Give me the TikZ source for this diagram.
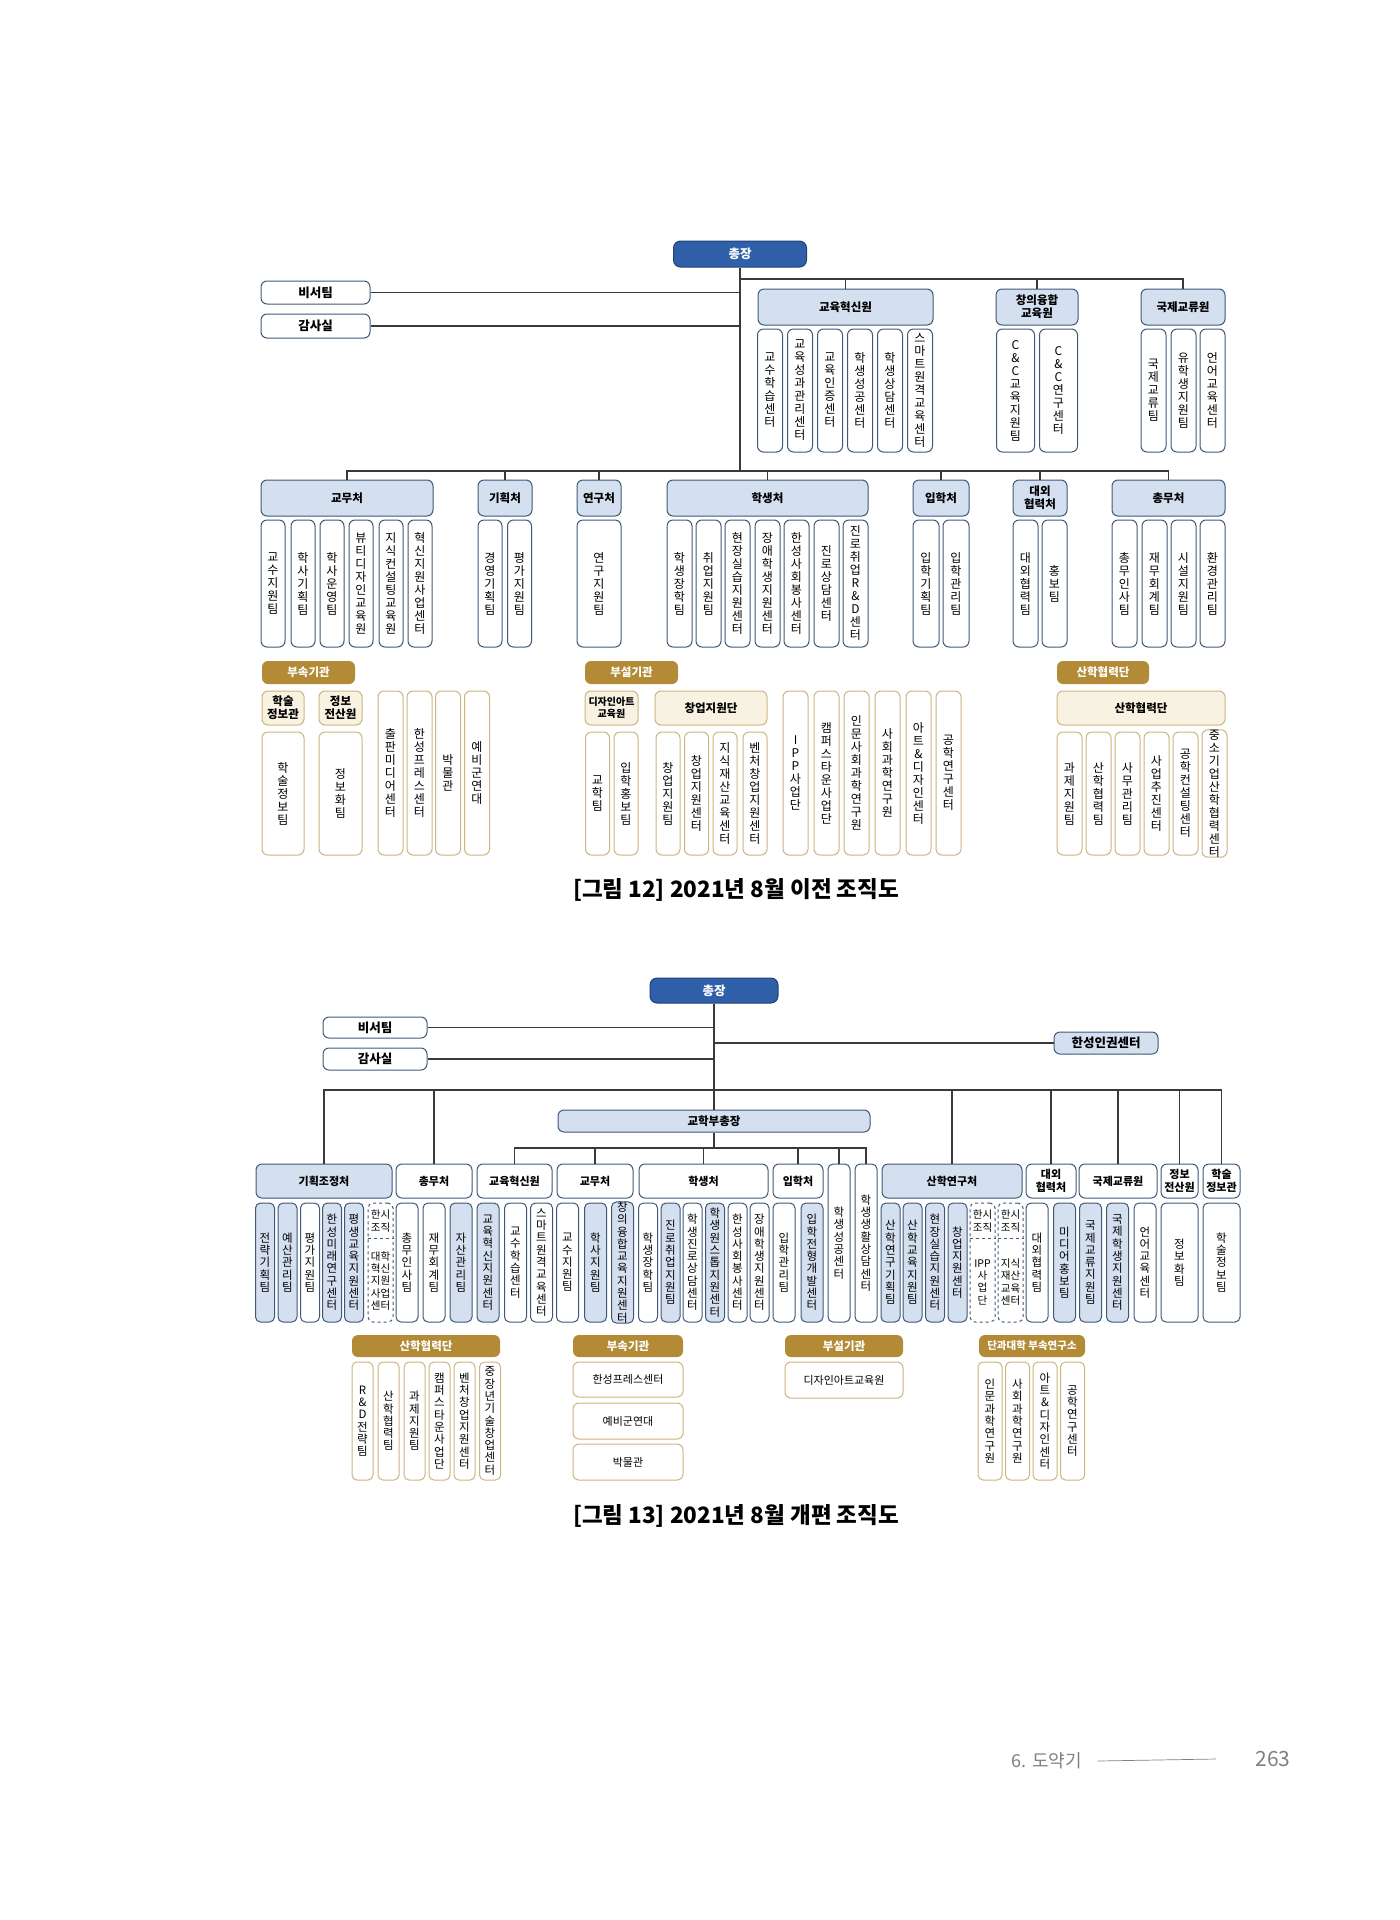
\documentclass[tikz,border=0pt]{standalone}
\usepackage{fontspec}
\setmainfont{Noto Sans CJK KR}
\usepackage{xcolor}
\usepackage{tikz}
\usetikzlibrary{positioning,calc}
\definecolor{chiefblue}{HTML}{2E5FA8}
\definecolor{paleblue}{HTML}{D4DFEF}
\definecolor{edgeblue}{HTML}{3F5878}
\definecolor{tagGold}{HTML}{B38A36}
\definecolor{goldline}{HTML}{CDB57F}
\definecolor{cream}{HTML}{F8F2E3}
\definecolor{linkgray}{HTML}{3A3A3A}

% 세로쓰기
\makeatletter
\newcommand\vstack[1]{\expandafter\vst@ck\expandafter{#1}}
\newcommand\vst@ck[1]{\vbox{\lineskiplimit=-\maxdimen\@tfor\vch:=#1\do{\hbox to 1em{\hss\vch\hss}}}}
\makeatother

\begin{document}
\begin{tikzpicture}[x=1pt, y=-1pt,
  chief/.style={draw=chiefblue!70!black, fill=chiefblue, text=white, rounded corners=7pt,
    line width=1pt, inner sep=0pt, font=\bfseries\fontsize{12.5}{14}\selectfont},
  staff/.style={draw=edgeblue, fill=white, rounded corners=6pt, line width=1pt,
    inner sep=0pt, font=\bfseries\fontsize{12.5}{14}\selectfont},
  hdr/.style={draw=edgeblue, fill=paleblue, rounded corners=6pt, line width=1pt,
    inner sep=0pt, align=center, font=\bfseries\fontsize{11.5}{13}\selectfont},
  hdrsm/.style={hdr, font=\bfseries\fontsize{11}{12.5}\selectfont},
  teambox/.style={draw=edgeblue, fill=white, rounded corners=6pt, line width=1pt,
    inner sep=0pt, font=\fontsize{12}{13}\selectfont},
  teamsm/.style={teambox, rounded corners=5pt, font=\fontsize{11.5}{12.3}\selectfont},
  goldtag/.style={fill=tagGold, text=white, rounded corners=6pt, inner sep=0pt,
    font=\bfseries\fontsize{11.5}{13}\selectfont},
  ghdr/.style={draw=goldline, fill=cream, rounded corners=6pt, line width=1pt,
    inner sep=0pt, align=center, font=\bfseries\fontsize{11.5}{13}\selectfont},
  gunit/.style={draw=goldline, fill=white, rounded corners=6pt, line width=1pt,
    inner sep=0pt, font=\fontsize{12}{13}\selectfont},
  tmpbox/.style={draw=edgeblue, dashed, rounded corners=5pt, line width=1pt, inner sep=0pt},
  tmptxt/.style={inner sep=0pt, align=center, font=\fontsize{10.5}{12.3}\selectfont},
  link/.style={draw=linkgray, line width=1.2pt},
  figcap/.style={font=\bfseries\fontsize{22.5}{25}\selectfont}
]
\fill[white] (0,0) rectangle (1400,1920);
\useasboundingbox (0,0) rectangle (1400,1920);

%% ---------------- 그림 12 ----------------
% 총장, 직속
\node[chief, minimum width=133pt, minimum height=26pt] (pres) at (740,254) {총장};
\node[staff, minimum width=109pt, minimum height=23pt] (sec) at (315.5,292.5) {비서팀};
\node[staff, minimum width=109pt, minimum height=24pt] (aud) at (315.5,326) {감사실};
\coordinate (bus1) at (740,279);
\coordinate (bus2) at (740,471);
\draw[link] (pres.south) -- (bus2);
\draw[link] (sec.east) -- (sec.east -| pres.south);
\draw[link] (aud.east) -- (aud.east -| pres.south);

% 윗줄 기관
\node[hdr, minimum width=175pt, minimum height=36pt] (edu) at (845.5,307) {교육혁신원};
\node[hdr, minimum width=82pt, minimum height=36pt] (cc) at (1037,307) {창의융합\\교육원};
\node[hdr, minimum width=84pt, minimum height=36pt] (intl) at (1183,307) {국제교류원};
\foreach \n in {edu,cc,intl} \draw[link] (bus1) -| (\n.north);

\foreach \x/\lbl [count=\i] in {770/교수학습센터, 800/교육성과관리센터, 830/교육인증센터,
    860/학생성공센터, 890/학생상담센터, 920/스마트원격교육센터}
  \node[teambox, minimum width=25pt, minimum height=123pt] (edu-\i) at (\x,390.5) {\vstack{\lbl}};
\foreach \x/\lbl [count=\i] in {1015.5/C\&C 교육지원팀, 1058.5/C\&C 연구센터}
  \node[teambox, minimum width=38pt, minimum height=123pt] (cc-\i) at (\x,390.5) {\vstack{\lbl}};
\foreach \x/\lbl [count=\i] in {1153.5/국제교류팀, 1183.5/유학생지원팀, 1212.5/언어교육센터}
  \node[teambox, minimum width=25pt, minimum height=123pt] (intl-\i) at (\x,390.5) {\vstack{\lbl}};

% 처
\node[hdr, minimum width=172pt, minimum height=36pt] (acad) at (347,498) {교무처};
\node[hdr, minimum width=54pt, minimum height=36pt] (plan) at (505,498) {기획처};
\node[hdr, minimum width=44pt, minimum height=36pt] (res) at (599,498) {연구처};
\node[hdr, minimum width=201pt, minimum height=36pt] (stud) at (767.5,498) {학생처};
\node[hdr, minimum width=56pt, minimum height=36pt] (adm) at (941,498) {입학처};
\node[hdr, minimum width=54pt, minimum height=36pt] (ext) at (1040,498) {대외\\협력처};
\node[hdr, minimum width=113pt, minimum height=36pt] (gen) at (1168.5,498) {총무처};
\foreach \n in {acad,plan,res,stud,adm,ext,gen} \draw[link] (bus2) -| (\n.north);

\foreach \x/\lbl [count=\i] in {273/교수지원팀, 303/학사기획팀, 332/학사운영팀,
    361/뷰티디자인교육원, 391/지식컨설팅교육원, 420/혁신지원사업센터}
  \node[teambox, minimum width=24pt, minimum height=127pt] (acad-\i) at (\x,583.5) {\vstack{\lbl}};
\foreach \x/\lbl [count=\i] in {490/경영기획팀, 519.5/평가지원팀}
  \node[teambox, minimum width=24pt, minimum height=127pt] (plan-\i) at (\x,583.5) {\vstack{\lbl}};
\node[teambox, minimum width=44pt, minimum height=127pt] (res-1) at (599,583.5) {\vstack{연구지원팀}};
\foreach \x/\lbl [count=\i] in {679.5/학생장학팀, 708.5/취업지원팀, 737.5/현장실습지원센터,
    767.5/장애학생지원센터, 796.5/한성 사회봉사센터, 826.5/진로상담센터, 855.5/진로취업R\&D센터}
  \node[teambox, minimum width=25pt, minimum height=127pt] (stud-\i) at (\x,583.5) {\vstack{\lbl}};
\foreach \x/\lbl [count=\i] in {926/입학기획팀, 956/입학관리팀}
  \node[teambox, minimum width=26pt, minimum height=127pt] (adm-\i) at (\x,583.5) {\vstack{\lbl}};
\foreach \x/\lbl [count=\i] in {1025.5/대외협력팀, 1054.5/홍보팀}
  \node[teambox, minimum width=25pt, minimum height=127pt] (ext-\i) at (\x,583.5) {\vstack{\lbl}};
\foreach \x/\lbl [count=\i] in {1124.5/총무인사팀, 1154.5/재무회계팀, 1183.5/시설지원팀, 1212.5/환경관리팀}
  \node[teambox, minimum width=25pt, minimum height=127pt] (gen-\i) at (\x,583.5) {\vstack{\lbl}};

% 부속기관
\node[goldtag, minimum width=93pt, minimum height=23pt] (tagA) at (308.5,672.5) {부속기관};
\node[ghdr, minimum width=42pt, minimum height=34pt] (lib) at (283,708) {학술\\정보관};
\node[gunit, minimum width=42pt, minimum height=123pt] (lib-1) at (283,793.5) {\vstack{학술정보팀}};
\node[ghdr, minimum width=43pt, minimum height=34pt] (info) at (340.5,708) {정보\\전산원};
\node[gunit, minimum width=43pt, minimum height=123pt] (info-1) at (340.5,793.5) {\vstack{정보화팀}};
\foreach \x/\lbl [count=\i] in {390.5/출판미디어센터, 419.5/한성프레스센터, 448/박물관, 477/예비군연대}
  \node[gunit, minimum width=25pt, minimum height=164pt] (att-\i) at (\x,773) {\vstack{\lbl}};

% 부설기관
\node[goldtag, minimum width=93pt, minimum height=23pt] (tagB) at (631.5,672.5) {부설기관};
\node[ghdr, minimum width=53pt, minimum height=34pt, font=\bfseries\fontsize{10}{12}\selectfont]
  (da) at (611.5,708) {디자인아트\\교육원};
\foreach \x/\lbl [count=\i] in {597.5/교학팀, 626/입학홍보팀}
  \node[gunit, minimum width=24pt, minimum height=123pt] (da-\i) at (\x,793.5) {\vstack{\lbl}};
\node[ghdr, minimum width=112pt, minimum height=34pt] (start) at (711,708) {창업지원단};
\foreach \x/\lbl [count=\i] in {668/창업지원팀, 696.5/창업지원센터, 725/지식재산교육센터, 755/벤처창업지원센터}
  \node[gunit, minimum width=24pt, minimum height=123pt] (start-\i) at (\x,793.5) {\vstack{\lbl}};
\foreach \x/\lbl [count=\i] in {795.5/IPP사업단, 826.5/캠퍼스타운사업단, 856.5/인문사회과학연구원,
    887.5/사회과학연구원, 918.5/아트\&디자인센터, 948.5/공학연구센터}
  \node[gunit, minimum width=25pt, minimum height=164pt] (inst-\i) at (\x,773) {\vstack{\lbl}};

% 산학협력단
\node[goldtag, minimum width=92pt, minimum height=23pt] (tagC) at (1103,672.5) {산학협력단};
\node[ghdr, minimum width=168pt, minimum height=34pt] (iuc) at (1141,708) {산학협력단};
\foreach \x/\lbl [count=\i] in {1069.5/과제지원팀, 1098.5/산학협력팀, 1127.5/사무관리팀,
    1156.5/사업추진센터, 1185.5/공학컨설팅센터, 1214.5/중소기업산학협력센터}
  \node[gunit, minimum width=25pt, minimum height=123pt] (iuc-\i) at (\x,793.5) {\vstack{\lbl}};

\node[figcap] (cap1) at (736,890) {[그림 12] 2021년 8월 이전 조직도};

%% ---------------- 그림 13 ----------------
\node[chief, minimum width=128pt, minimum height=25pt] (pres2) at (714,990.5) {총장};
\node[staff, minimum width=104pt, minimum height=21pt] (sec2) at (375,1027.5) {비서팀};
\node[staff, minimum width=104pt, minimum height=22pt] (aud2) at (375,1059) {감사실};
\node[staff, fill=paleblue, minimum width=104pt, minimum height=22pt] (hr) at (1106,1043) {한성인권센터};
\node[hdr, minimum width=312pt, minimum height=22pt] (vp) at (714,1121) {교학부총장};
\coordinate (bus3) at (714,1090);
\coordinate (bus4) at (714,1148);
\draw[link] (pres2.south) -- (vp.north);
\draw[link] (vp.south) -- (bus4);
\draw[link] (sec2.east) -- (sec2.east -| pres2.south);
\draw[link] (aud2.east) -- (aud2.east -| pres2.south);
\draw[link] (hr.west -| pres2.south) -- (hr.west);

% 처, 원
\node[hdrsm, minimum width=136pt, minimum height=34pt] (plan2) at (324,1181) {기획조정처};
\node[hdrsm, fill=white, minimum width=76pt, minimum height=34pt] (gen2) at (434,1181) {총무처};
\node[hdrsm, fill=white, minimum width=75pt, minimum height=34pt] (edu2) at (514.5,1181) {교육혁신원};
\node[hdrsm, fill=white, minimum width=76pt, minimum height=34pt] (acad2) at (595,1181) {교무처};
\node[hdrsm, fill=white, minimum width=129pt, minimum height=34pt] (stud2) at (703.5,1181) {학생처};
\node[hdrsm, fill=white, minimum width=50pt, minimum height=34pt] (adm2) at (798,1181) {입학처};
\node[teamsm, minimum width=22pt, minimum height=158pt] (succ) at (839,1243) {\vstack{학생성공센터}};
\node[teamsm, minimum width=22pt, minimum height=158pt] (life) at (866,1243) {\vstack{학생생활상담센터}};
\node[hdrsm, minimum width=140pt, minimum height=34pt] (iuc2) at (952,1181) {산학연구처};
\node[hdrsm, fill=white, minimum width=50pt, minimum height=34pt] (ext2) at (1051,1181) {대외\\협력처};
\node[hdrsm, fill=white, minimum width=78pt, minimum height=34pt] (intl2) at (1118,1181) {국제교류원};
\node[hdrsm, fill=white, minimum width=37pt, minimum height=34pt] (info2) at (1179.5,1181) {정보\\전산원};
\node[hdrsm, fill=white, minimum width=37pt, minimum height=34pt] (lib2) at (1221.5,1181) {학술\\정보관};
\foreach \n in {plan2,gen2,iuc2,ext2,intl2,info2,lib2} \draw[link] (bus3) -| (\n.north);
\foreach \n in {edu2,acad2,stud2,adm2,succ,life} \draw[link] (bus4) -| (\n.north);

% 팀, 센터
\foreach \x/\lbl/\f [count=\i] in {265/전략기획팀/paleblue, 287.5/예산관리팀/paleblue,
    310/평가지원팀/white, 332/한성미래연구센터/paleblue, 354/평생교육지원센터/paleblue}
  \node[teamsm, fill=\f, minimum width=19pt, minimum height=119pt] (plan2-\i) at (\x,1262.5) {\vstack{\lbl}};
\foreach \x/\lbl/\f [count=\i] in {407/총무인사팀/white, 434/재무회계팀/white, 461/자산관리팀/paleblue}
  \node[teamsm, fill=\f, minimum width=22pt, minimum height=119pt] (gen2-\i) at (\x,1262.5) {\vstack{\lbl}};
\foreach \x/\lbl/\f [count=\i] in {488/교육혁신지원센터/paleblue, 515.5/교수학습센터/white, 541.5/스마트원격교육센터/white}
  \node[teamsm, fill=\f, minimum width=22pt, minimum height=119pt] (edu2-\i) at (\x,1262.5) {\vstack{\lbl}};
\foreach \x/\lbl/\f [count=\i] in {567.5/교수지원팀/white, 595.5/학사지원팀/paleblue, 622.5/창의융합교육지원센터/paleblue}
  \node[teamsm, fill=\f, minimum width=22pt, minimum height=119pt] (acad2-\i) at (\x,1262.5) {\vstack{\lbl}};
\foreach \x/\lbl/\f [count=\i] in {648/학생장학팀/white, 670.5/진로취업지원팀/paleblue,
    692.5/학생진로상담센터/white, 715/학생원스톱지원센터/paleblue, 737.5/한성사회봉사센터/white,
    759.5/장애학생지원센터/white}
  \node[teamsm, fill=\f, minimum width=19pt, minimum height=119pt] (stud2-\i) at (\x,1262.5) {\vstack{\lbl}};
\foreach \x/\lbl/\f [count=\i] in {784/입학관리팀/white, 812/입학전형개발센터/paleblue}
  \node[teamsm, fill=\f, minimum width=22pt, minimum height=119pt] (adm2-\i) at (\x,1262.5) {\vstack{\lbl}};
\foreach \x/\lbl [count=\i] in {890.5/산학연구기획팀, 912.5/산학교육지원팀, 935/현장실습지원센터, 957.5/창업지원센터}
  \node[teamsm, fill=paleblue, minimum width=19pt, minimum height=119pt] (iuc2-\i) at (\x,1262.5) {\vstack{\lbl}};
\foreach \x/\lbl/\f [count=\i] in {1037/대외협력팀/white, 1064.5/미디어홍보팀/paleblue}
  \node[teamsm, fill=\f, minimum width=22pt, minimum height=119pt] (ext2-\i) at (\x,1262.5) {\vstack{\lbl}};
\foreach \x/\lbl/\f [count=\i] in {1090.5/국제교류지원팀/paleblue, 1117.5/국제학생지원센터/paleblue, 1145/언어교육센터/white}
  \node[teamsm, fill=\f, minimum width=22pt, minimum height=119pt] (intl2-\i) at (\x,1262.5) {\vstack{\lbl}};
\node[teamsm, minimum width=37pt, minimum height=119pt] (info2-1) at (1179.5,1262.5) {\vstack{정보화팀}};
\node[teamsm, minimum width=37pt, minimum height=119pt] (lib2-1) at (1221.5,1262.5) {\vstack{학술정보팀}};

% 한시조직
\node[tmpbox, minimum width=25pt, minimum height=119pt] (tmp1) at (380.5,1262.5) {};
\node[tmptxt] (tmp1-top) at (380.5,1221) {한시\\조직};
\node[tmptxt] (tmp1-bot) at (380.5,1281) {대학\\혁신\\지원\\사업\\센터};
\node[tmpbox, minimum width=25pt, minimum height=119pt] (tmp2) at (982.5,1262.5) {};
\node[tmptxt] (tmp2-top) at (982.5,1221) {한시\\조직};
\node[tmptxt] (tmp2-bot) at (982.5,1282) {IPP\\사\\업\\단};
\node[tmpbox, minimum width=25pt, minimum height=119pt] (tmp3) at (1010.5,1262.5) {};
\node[tmptxt] (tmp3-top) at (1010.5,1221) {한시\\조직};
\node[tmptxt] (tmp3-bot) at (1010.5,1282) {지식\\재산\\교육\\센터};
\foreach \n in {tmp1,tmp2,tmp3}
  \draw[draw=edgeblue, dashed, line width=1pt] ([yshift=-36pt]\n.north west) -- ([yshift=-36pt]\n.north east);

% 산학협력단, 부속·부설기관, 연구소
\node[goldtag, minimum width=148pt, minimum height=22pt] (tagD) at (426,1346) {산학협력단};
\foreach \x/\lbl [count=\i] in {362.5/R\&D전략팀, 388.5/산학협력팀, 414.5/과제지원팀,
    439.5/캠퍼스타운사업단, 464.5/벤처창업지원센터, 490/중장년기술창업센터}
  \node[gunit, rounded corners=5pt, font=\fontsize{11.5}{12.3}\selectfont, minimum width=21pt, minimum height=118pt]
    (iuc3-\i) at (\x,1421) {\vstack{\lbl}};
\node[goldtag, minimum width=110pt, minimum height=22pt] (tagE) at (628,1346) {부속기관};
\node[gunit, font=\fontsize{11}{12}\selectfont, minimum width=110pt, minimum height=35pt] (att2-1) at (628,1379.5) {한성프레스센터};
\node[gunit, font=\fontsize{11}{12}\selectfont, minimum width=110pt, minimum height=36pt] (att2-2) at (628,1421) {예비군연대};
\node[gunit, font=\fontsize{11}{12}\selectfont, minimum width=110pt, minimum height=36pt] (att2-3) at (628,1462) {박물관};
\node[goldtag, minimum width=118pt, minimum height=22pt] (tagF) at (844,1346) {부설기관};
\node[gunit, font=\fontsize{11}{12}\selectfont, minimum width=118pt, minimum height=36pt] (da2) at (844,1380) {디자인아트교육원};
\node[goldtag, minimum width=106pt, minimum height=22pt, font=\bfseries\fontsize{10.5}{12}\selectfont]
  (tagG) at (1032,1346) {단과대학 부속연구소};
\foreach \x/\lbl [count=\i] in {990/인문과학연구원, 1017.5/사회과학연구원, 1045/아트\&디자인센터, 1072.5/공학연구센터}
  \node[gunit, rounded corners=5pt, font=\fontsize{11.5}{12.3}\selectfont, minimum width=24pt, minimum height=118pt]
    (col-\i) at (\x,1421) {\vstack{\lbl}};

\node[figcap] (cap2) at (736,1516) {[그림 13] 2021년 8월 개편 조직도};

% 쪽 번호
\node[text=gray, font=\fontsize{18}{20}\selectfont] (sect) at (1047,1761) {6. 도약기};
\node[text=gray, font=\fontsize{21}{24}\selectfont] (pageno) at (1273,1759) {263};
\draw[gray, line width=0.7pt] ([xshift=12pt]sect.east) -- ([xshift=-36pt]pageno.west);
\end{tikzpicture}
\end{document}
